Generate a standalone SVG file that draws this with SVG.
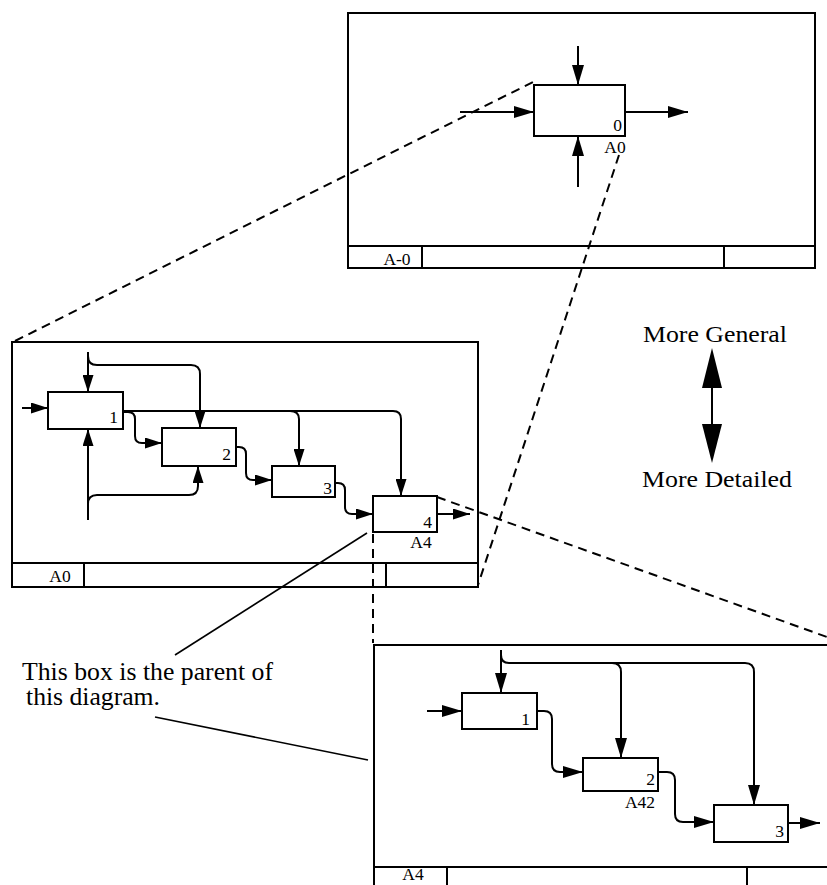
<svg xmlns="http://www.w3.org/2000/svg" width="827" height="885" viewBox="0 0 827 885">
<style>
.fr{fill:none;stroke:#000;stroke-width:2}
.bx{fill:#fff;stroke:#000;stroke-width:2}
.ln{fill:none;stroke:#000;stroke-width:2}
.thin{fill:none;stroke:#000;stroke-width:1.6}
.ds{fill:none;stroke:#000;stroke-width:2;stroke-dasharray:9 6}
.t{font-family:"Liberation Serif","Times New Roman",serif;fill:#000}
.s{font-size:17.5px}
.b{font-size:24px}
</style>
<defs>
<marker id="ah" viewBox="0 0 20 12" refX="20" refY="6" markerWidth="20" markerHeight="12" markerUnits="userSpaceOnUse" orient="auto"><path d="M0,0 L20,6 L0,12 Z" fill="#000"/></marker>
<marker id="am" viewBox="0 0 17 11" refX="17" refY="5.5" markerWidth="17" markerHeight="11" markerUnits="userSpaceOnUse" orient="auto"><path d="M0,0 L17,5.5 L0,11 Z" fill="#000"/></marker>
</defs>

<!-- Top frame A-0 -->
<g id="frameA-0">
<rect class="fr" x="348" y="13" width="467" height="255"/>
<line class="ln" x1="348" y1="246" x2="815" y2="246"/>
<line class="ln" x1="422" y1="246" x2="422" y2="268"/>
<line class="ln" x1="724" y1="246" x2="724" y2="268"/>
<text class="t s" x="397" y="265" text-anchor="middle">A-0</text>
</g>
<g id="boxA0">
<rect class="bx" x="534" y="85" width="91" height="51"/>
<text class="t s" x="622" y="131" text-anchor="end">0</text>
<text class="t s" x="615" y="153" text-anchor="middle">A0</text>
</g>

<!-- Middle frame A0 -->
<g id="frameA0">
<rect class="fr" x="12" y="342" width="466" height="245"/>
<line class="ln" x1="12" y1="563" x2="478" y2="563"/>
<line class="ln" x1="84" y1="563" x2="84" y2="587"/>
<line class="ln" x1="386" y1="563" x2="386" y2="587"/>
<text class="t s" x="60" y="582" text-anchor="middle">A0</text>
</g>
<g id="a0box1">
<rect class="bx" x="48" y="392" width="75" height="37"/>
<text class="t s" x="118" y="423" text-anchor="end">1</text>
</g>
<g id="a0box2">
<rect class="bx" x="162" y="428" width="74" height="38"/>
<text class="t s" x="231" y="460" text-anchor="end">2</text>
</g>
<g id="a0box3">
<rect class="bx" x="272" y="466" width="63" height="31"/>
<text class="t s" x="332" y="494" text-anchor="end">3</text>
</g>
<g id="a0box4">
<rect class="bx" x="373" y="496" width="64" height="36"/>
<text class="t s" x="432" y="528" text-anchor="end">4</text>
<text class="t s" x="421" y="548" text-anchor="middle">A4</text>
</g>

<!-- Bottom frame A4 -->
<g id="frameA4">
<path class="fr" d="M374,885 V645 H827"/>
<line class="ln" x1="374" y1="867" x2="827" y2="867"/>
<line class="ln" x1="447" y1="867" x2="447" y2="885"/>
<line class="ln" x1="747" y1="867" x2="747" y2="885"/>
<text class="t s" x="413" y="880" text-anchor="middle">A4</text>
</g>
<g id="a4box1">
<rect class="bx" x="462" y="693" width="75" height="36"/>
<text class="t s" x="530" y="725" text-anchor="end">1</text>
</g>
<g id="a4box2">
<rect class="bx" x="583" y="758" width="75" height="33"/>
<text class="t s" x="655" y="785" text-anchor="end">2</text>
<text class="t s" x="640" y="808" text-anchor="middle">A42</text>
</g>
<g id="a4box3">
<rect class="bx" x="714" y="805" width="74" height="37"/>
<text class="t s" x="784" y="837" text-anchor="end">3</text>
</g>

<!-- Legend -->
<g id="legend">
<text class="t b" x="643" y="342" textLength="144" lengthAdjust="spacingAndGlyphs">More General</text>
<text class="t b" x="642" y="487" textLength="150" lengthAdjust="spacingAndGlyphs">More Detailed</text>
<line class="ln" x1="712" y1="385" x2="712" y2="427"/>
<polygon points="712,348 722,388 702,388" fill="#000"/>
<polygon points="712,463 722,424 702,424" fill="#000"/>
</g>

<g id="note">
<text class="t" font-size="24.5" x="22" y="680" textLength="251" lengthAdjust="spacingAndGlyphs">This box is the parent of</text>
<text class="t" font-size="24.5" x="26" y="705" textLength="134" lengthAdjust="spacingAndGlyphs">this diagram.</text>
</g>

<g id="connectors">
<!-- top frame -->
<path class="ln" d="M578,46 V85" marker-end="url(#ah)"/>
<path class="ln" d="M578,187 V136" marker-end="url(#ah)"/>
<path class="ln" d="M460,112 H534" marker-end="url(#ah)"/>
<path class="ln" d="M625,112 H688" marker-end="url(#ah)"/>

<!-- middle frame -->
<path class="ln" d="M22,408 H48" marker-end="url(#am)"/>
<path class="ln" d="M88,352 V392" marker-end="url(#am)"/>
<path class="ln" d="M88,356 Q88,365 97,365 H191 Q200,365 200,374 V428" marker-end="url(#am)"/>
<path class="ln" d="M88,520 V429" marker-end="url(#am)"/>
<path class="ln" d="M88,504 Q88,495 97,495 H189 Q198,495 198,486 V466" marker-end="url(#am)"/>
<path class="ln" d="M123,411 H393 Q401,411 401,419 V496" marker-end="url(#am)"/>
<path class="ln" d="M290,411 Q299,411 299,419 V466" marker-end="url(#am)"/>
<path class="ln" d="M123,412 H128 Q135,412 135,419 V436 Q135,443 142,443 H162" marker-end="url(#am)"/>
<path class="ln" d="M236,447 H239 Q246,447 246,454 V473 Q246,480 253,480 H272" marker-end="url(#am)"/>
<path class="ln" d="M335,483 H338 Q345,483 345,490 V507 Q345,514 352,514 H373" marker-end="url(#am)"/>
<path class="ln" d="M437,514 H470" marker-end="url(#am)"/>

<!-- bottom frame -->
<path class="ln" d="M427,711 H462" marker-end="url(#ah)"/>
<path class="ln" d="M501,650 V693" marker-end="url(#ah)"/>
<path class="ln" d="M501,655 Q501,663 509,663 H745 Q754,663 754,672 V805" marker-end="url(#ah)"/>
<path class="ln" d="M612,663 Q621,663 621,672 V758" marker-end="url(#ah)"/>
<path class="ln" d="M537,711 H544 Q552,711 552,719 V764 Q552,772 560,772 H583" marker-end="url(#ah)"/>
<path class="ln" d="M658,772 H667 Q675,772 675,780 V814 Q675,822 683,822 H714" marker-end="url(#ah)"/>
<path class="ln" d="M788,823 H820" marker-end="url(#ah)"/>

<!-- dashed decomposition lines -->
<path class="ds" d="M15,341 L533,82"/>
<path class="ds" d="M619,155 L478,585"/>
<path class="ds" d="M437,497 L827,637"/>
<path class="ds" d="M373,534 V643"/>

<!-- note leaders -->
<path class="thin" d="M367,533 L175,655"/>
<path class="thin" d="M155,717 L368,760"/>
</g>
</svg>
